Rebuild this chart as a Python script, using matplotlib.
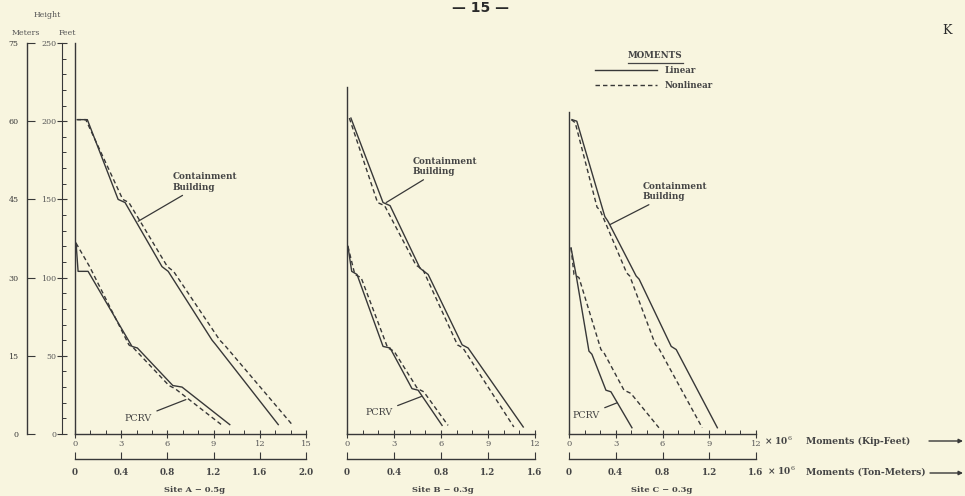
import matplotlib
matplotlib.use('Agg')
import matplotlib.pyplot as plt
from matplotlib.ticker import MultipleLocator

W, H = 965, 496
BG = '#f8f5df'
INK = '#383838'
TXT = '#454545'
plt.rcParams['font.family'] = ['DejaVu Serif']
plt.rcParams['mathtext.fontset'] = 'dejavuserif'

# ---------------- data: moment (x10^6 kip-ft) vs height (ft) ----------------
# Site A - 0.5g
a_cb_lin_m = [0.2, 0.8, 2.8, 3.25, 5.65, 6.05, 8.9, 9.15, 13.2]
a_cb_lin_h = [201, 201, 150, 148, 107, 104, 60, 57, 6]
a_cb_non_m = [0.1, 0.7, 3.1, 3.5, 6.0, 6.4, 9.4, 9.7, 14.1]
a_cb_non_h = [201, 201, 150, 148, 107, 104, 60, 57, 6]
a_pcrv_lin_m = [0.07, 0.2, 0.85, 3.7, 4.05, 6.35, 6.95, 10.05]
a_pcrv_lin_h = [122, 104, 104, 56, 55, 31, 30, 6]
a_pcrv_non_m = [0.07, 0.95, 3.5, 3.8, 6.1, 6.5, 9.5]
a_pcrv_non_h = [122, 107, 57, 55, 31, 29, 6]

# Site B - 0.3g
b_cb_lin_m = [0.25, 2.3, 2.75, 4.66, 5.18, 7.35, 7.73, 11.25]
b_cb_lin_h = [202, 148, 146, 106, 102, 57, 55, 4.5]
b_cb_non_m = [0.15, 1.95, 2.4, 4.4, 4.85, 7.05, 7.4, 10.65]
b_cb_non_h = [202, 148, 146, 108, 105, 57, 55, 4.5]
b_pcrv_lin_m = [0.06, 0.3, 0.64, 2.3, 2.75, 4.15, 4.54, 6.07]
b_pcrv_lin_h = [120, 104, 102, 56, 55, 29, 28, 5.5]
b_pcrv_non_m = [0.06, 0.5, 0.9, 2.6, 3.0, 4.5, 4.9, 6.45]
b_pcrv_non_h = [120, 102, 100, 55, 53, 29, 27, 5.5]

# Site C - 0.3g
c_cb_lin_m = [0.2, 0.5, 2.3, 2.5, 4.31, 4.5, 6.56, 6.88, 9.52]
c_cb_lin_h = [201, 200, 139, 136, 101, 99, 56, 54, 4]
c_cb_non_m = [0.15, 0.4, 1.8, 2.0, 3.7, 3.9, 5.55, 5.75, 8.55]
c_cb_non_h = [201, 199, 145, 143, 103, 101, 57, 55, 4]
c_pcrv_lin_m = [0.13, 0.45, 1.28, 1.47, 2.37, 2.69, 4.04]
c_pcrv_lin_h = [119, 102, 53, 51, 28, 27, 4]
c_pcrv_non_m = [0.13, 0.32, 0.64, 2.05, 2.24, 3.53, 3.97, 5.77]
c_pcrv_non_h = [119, 102, 100, 54, 52, 28, 26, 4]

kip_ticks_a = [0, 3, 6, 9, 12, 15]
kip_ticks_bc = [0, 3, 6, 9, 12]
ton_ticks_a = [0, 0.4, 0.8, 1.2, 1.6, 2.0]
ton_ticks_bc = [0, 0.4, 0.8, 1.2, 1.6]
feet_ticks = [0, 50, 100, 150, 200, 250]
meter_ticks = [0, 15, 30, 45, 60, 75]
site_titles = ['Site A \u2212 0.5g', 'Site B \u2212 0.3g', 'Site C \u2212 0.3g']

fig = plt.figure(figsize=(W / 100, H / 100), dpi=100, facecolor=BG)


def fx(px):
    return px / W


def fy(py):
    return 1 - py / H


Y0, Y250 = 434, 43
YTON = 459


def rect(x0, x1):
    return [fx(x0), fy(Y0), (x1 - x0) / W, (Y0 - Y250) / H]


panels = [
    dict(r=rect(75, 306), xmax=15, top=250, kt=kip_ticks_a, tt=ton_ticks_a,
         cb=(a_cb_lin_m, a_cb_lin_h, a_cb_non_m, a_cb_non_h),
         pc=(a_pcrv_lin_m, a_pcrv_lin_h, a_pcrv_non_m, a_pcrv_non_h),
         cb_xy=(4.1, 136), cb_txt=(6.35, 161), pc_xy=(7.2, 22), pc_txt=(3.2, 10),
         title_x=195),
    dict(r=rect(347, 535), xmax=12, top=222, kt=kip_ticks_bc, tt=ton_ticks_bc,
         cb=(b_cb_lin_m, b_cb_lin_h, b_cb_non_m, b_cb_non_h),
         pc=(b_pcrv_lin_m, b_pcrv_lin_h, b_pcrv_non_m, b_pcrv_non_h),
         cb_xy=(2.5, 148), cb_txt=(4.2, 171), pc_xy=(4.75, 24), pc_txt=(1.15, 13.5),
         title_x=443),
    dict(r=rect(569, 756), xmax=12, top=206, kt=kip_ticks_bc, tt=ton_ticks_bc,
         cb=(c_cb_lin_m, c_cb_lin_h, c_cb_non_m, c_cb_non_h),
         pc=(c_pcrv_lin_m, c_pcrv_lin_h, c_pcrv_non_m, c_pcrv_non_h),
         cb_xy=(2.65, 134), cb_txt=(4.7, 155), pc_xy=(3.1, 20), pc_txt=(0.2, 12),
         title_x=662),
]

DASH = (0, (3.2, 2.2))
legend_handles = None
axes = []
for i, p in enumerate(panels):
    ax = fig.add_axes(p['r'])
    ax.set_facecolor('none')
    ax.set_xlim(0, p['xmax'])
    ax.set_ylim(0, 250)
    for s in ('top', 'right'):
        ax.spines[s].set_visible(False)
    for s in ('left', 'bottom'):
        ax.spines[s].set_color(INK)
        ax.spines[s].set_linewidth(1.0)
    ax.spines['left'].set_bounds(0, p['top'])
    ax.tick_params(axis='y', left=False, labelleft=False)
    ax.set_xticks(p['kt'])
    ax.set_xticklabels([str(t) for t in p['kt']])
    ax.xaxis.set_minor_locator(MultipleLocator(1))
    ax.tick_params(axis='x', which='major', direction='inout', length=6, width=0.8,
                   colors=INK, labelcolor='#5a5a5a', labelsize=6, pad=1)
    ax.tick_params(axis='x', which='minor', direction='in', length=3, width=0.7, colors=INK)

    lm, lh, nm, nh = p['cb']
    l1, = ax.plot(lm, lh, color=INK, lw=1.0)
    l2, = ax.plot(nm, nh, color=INK, lw=1.0, ls=DASH)
    lm, lh, nm, nh = p['pc']
    ax.plot(lm, lh, color=INK, lw=1.0)
    ax.plot(nm, nh, color=INK, lw=1.0, ls=DASH)
    if i == 2:
        legend_handles = [l1, l2]

    sec = ax.secondary_xaxis(-(YTON - Y0) / (Y0 - Y250),
                             functions=(lambda k: k * 2.0 / 15.0, lambda t: t * 15.0 / 2.0))
    sec.set_xticks(p['tt'])
    sec.set_xticklabels(['0'] + ['%.1f' % t for t in p['tt'][1:]])
    sec.tick_params(axis='x', direction='in', length=5, width=0.8, colors=INK,
                    labelcolor=TXT, labelsize=6.3, pad=6.5)
    sec.spines['bottom'].set_color(INK)
    sec.spines['bottom'].set_linewidth(1.0)
    for lab in sec.get_xticklabels():
        lab.set_fontweight('bold')

    ax.annotate('Containment\nBuilding', xy=p['cb_xy'], xytext=p['cb_txt'],
                textcoords='data', ha='left', va='center', fontsize=6.3,
                fontweight='bold', color=TXT, linespacing=1.2,
                arrowprops=dict(arrowstyle='-', color=INK, lw=0.9, shrinkA=1, shrinkB=0))
    ax.annotate('PCRV', xy=p['pc_xy'], xytext=p['pc_txt'], textcoords='data',
                ha='left', va='center', fontsize=6.8, color=TXT,
                arrowprops=dict(arrowstyle='-', color=INK, lw=0.9, shrinkA=2, shrinkB=0))
    fig.text(fx(p['title_x']), fy(490), site_titles[i], ha='center', va='center',
             fontsize=6, fontweight='bold', color=TXT)
    axes.append(ax)

# left height scales on Site A
axA = axes[0]
wA = 306 - 75
feet = axA.secondary_yaxis(-(75 - 62) / wA)
feet.set_yticks(feet_ticks)
feet.set_yticklabels([str(t) for t in feet_ticks])
feet.yaxis.set_minor_locator(MultipleLocator(10))
feet.tick_params(axis='y', which='major', direction='inout', length=7, width=0.8,
                 colors=INK, labelcolor='#5a5a5a', labelsize=5.8, pad=0.5)
feet.tick_params(axis='y', which='minor', direction='in', length=3, width=0.7, colors=INK)
feet.spines['left'].set_color(INK)

meters = axA.secondary_yaxis(-(75 - 27) / wA,
                             functions=(lambda f: f * 0.3, lambda m: m / 0.3))
meters.set_yticks(meter_ticks)
meters.set_yticklabels([str(t) for t in meter_ticks])
meters.tick_params(axis='y', direction='in', length=6, width=0.8, colors=INK,
                   labelcolor='#3a3a3a', labelsize=5.8, pad=6)
meters.spines['left'].set_color(INK)
meters.spines['left'].set_linewidth(1.0)

fig.text(fx(47), fy(15), 'Height', ha='center', va='center', fontsize=5.6, color='#555555')
fig.text(fx(26), fy(33), 'Meters', ha='center', va='center', fontsize=5.6, color='#555555')
fig.text(fx(67), fy(33), 'Feet', ha='center', va='center', fontsize=5.6, color='#555555')

# page text
fig.text(fx(481), fy(8), '\u2014 15 \u2014', ha='center', va='center', fontsize=10,
         fontweight='bold', color='#2a2a2a', family=['DejaVu Sans'])
fig.text(fx(947), fy(31), 'K', ha='center', va='center', fontsize=9, color='#2a2a2a')

# unit captions (on the same rows as the tick labels)
fig.text(fx(764), fy(441), '\u00d7 10$^6$', ha='left', va='center', fontsize=6.5,
         fontweight='bold', color=TXT)
fig.text(fx(767), fy(471), '\u00d7 10$^6$', ha='left', va='center', fontsize=6.5,
         fontweight='bold', color=TXT)
fig.text(fx(806), fy(441), 'Moments (Kip-Feet)', ha='left', va='center', fontsize=6.7,
         fontweight='bold', color=TXT)
fig.text(fx(806), fy(472), 'Moments (Ton-Meters)', ha='left', va='center', fontsize=6.7,
         fontweight='bold', color=TXT)

deco = fig.add_axes([0, 0, 1, 1])
deco.set_xlim(0, W)
deco.set_ylim(H, 0)
deco.axis('off')
deco.patch.set_alpha(0)
deco.annotate('', xy=(963, 441), xytext=(929, 441),
              arrowprops=dict(arrowstyle='-|>', color=INK, lw=1.0, mutation_scale=6,
                              shrinkA=0, shrinkB=0))
deco.annotate('', xy=(963, 473), xytext=(930, 473),
              arrowprops=dict(arrowstyle='-|>', color=INK, lw=1.0, mutation_scale=6,
                              shrinkA=0, shrinkB=0))

# legend title with underline
fig.text(fx(655.5), fy(56), 'MOMENTS', ha='center', va='center', fontsize=6.3,
         fontweight='bold', color=TXT)
deco.plot([628, 683], [63, 63], color=TXT, lw=0.9)

leg = fig.legend(legend_handles, ['Linear', 'Nonlinear'],
                 loc='upper left', bbox_to_anchor=(fx(595), fy(66)),
                 frameon=False, fontsize=6.2,
                 handlelength=7.2, handletextpad=0.9, labelspacing=0.65,
                 borderpad=0, borderaxespad=0)
for t in leg.get_texts():
    t.set_color(TXT)
    t.set_fontweight('bold')

fig.savefig('out.png', dpi=100, facecolor=BG)
